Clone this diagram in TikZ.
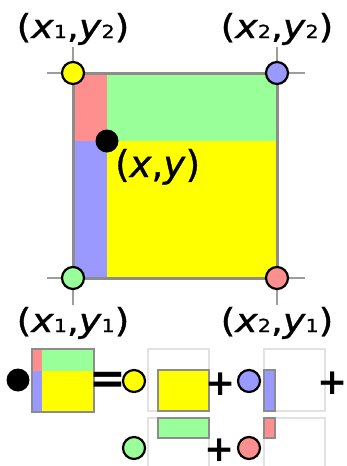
\documentclass[tikz,border=0pt]{standalone}
\usepackage{fontspec}
\setmainfont{DejaVu Sans}
\newfontfamily\lblfont[FakeBold=0.9]{DejaVu Sans}
\usepackage{graphicx}
\definecolor{ptred}{HTML}{FF8F8F}
\definecolor{ptgreen}{HTML}{99FF99}
\definecolor{ptblue}{HTML}{9999FF}
\definecolor{ptyellow}{HTML}{FFFF00}
\definecolor{edgegray}{HTML}{8C8C8C}
\definecolor{slotgray}{HTML}{E2E2E2}
\newcommand{\ptsub}[1]{{\fontsize{18}{18}\selectfont #1}}
\newcommand{\ptlabel}[2]{\scalebox{1.14}[1]{(\textit{x}\ptsub{#1},\textit{y}\ptsub{#2})}}

\begin{document}
\begin{tikzpicture}[x=1pt,y=-1pt,
dot/.style={circle,draw=black,line width=2.2pt,minimum size=22pt,inner sep=0pt},
bigdot/.style={circle,fill=black,minimum size=23pt,inner sep=0pt},
lbl/.style={anchor=base,inner sep=0pt,font=\lblfont\fontsize{33}{33}\selectfont},
op/.style={inner sep=0pt,font=\bfseries\fontsize{36}{36}\selectfont},
cross/.style={draw=edgegray!85,line width=2.4pt},
frame/.style={draw=edgegray,line width=3pt},
part/.style={draw=black!45,line width=1.2pt},
slot/.style={draw=slotgray,line width=1.5pt}]

\clip (0,0) rectangle (346,466);
\fill[white] (0,0) rectangle (346,466);

\fill[ptred] (73,73) rectangle (107,141);
\fill[ptgreen] (107,73) rectangle (277,141);
\fill[ptblue] (73,141) rectangle (107,278);
\fill[ptyellow] (107,141) rectangle (277,278);

\coordinate (T1) at (73,47);
\coordinate (T2) at (277,47);
\coordinate (B1) at (73,305);
\coordinate (B2) at (277,305);
\coordinate (W1) at (47,73);
\coordinate (E1) at (305,73);
\coordinate (W2) at (47,278);
\coordinate (E2) at (305,278);

\draw[cross] (T1) -- (B1);
\draw[cross] (T2) -- (B2);
\draw[cross] (W1) -- (E1);
\draw[cross] (W2) -- (E2);
\draw[frame] (73,73) rectangle (277,278);

\node[dot,fill=ptyellow] (P12) at (73,73) {};
\node[dot,fill=ptblue] (P22) at (277,73) {};
\node[dot,fill=ptgreen] (P11) at (73,278) {};
\node[dot,fill=ptred] (P21) at (277,278) {};

\node[lbl] (L12) at (73,38) {\ptlabel{1}{2}};
\node[lbl] (L22) at (277,38) {\ptlabel{2}{2}};
\node[lbl] (L11) at (73,332) {\ptlabel{1}{1}};
\node[lbl] (L21) at (277,332) {\ptlabel{2}{1}};

\node[bigdot] (P) at (107,141) {};
\node[anchor=base west,inner sep=0pt,font=\lblfont\fontsize{37}{37}\selectfont] (PL) at (115,177) {(\textit{x},\textit{y})};

\node[bigdot] (Q) at (18,380) {};
\fill[ptred] (32,349) rectangle (42,371);
\fill[ptgreen] (42,349) rectangle (94,371);
\fill[ptblue] (32,371) rectangle (42,412);
\fill[ptyellow] (42,371) rectangle (94,412);
\draw[edgegray,line width=2pt] (32,349) rectangle (94,412);

\node[op,font=\bfseries\fontsize{44}{44}\selectfont] (EQ) at (108,383) {=};
\node[dot,fill=ptyellow] (S12) at (134,381) {};
\draw[slot] (148,349) rectangle (209,411);
\filldraw[part,fill=ptyellow] (158,370) rectangle (209,411);
\node[op] (PLUS1) at (221,384) {+};
\node[dot,fill=ptblue] (S22) at (249,381) {};
\draw[slot] (264,349) rectangle (325,411);
\filldraw[part,fill=ptblue] (264,370) rectangle (275,411);
\node[op] (PLUS2) at (333,383) {+};

\node[dot,fill=ptgreen] (S11) at (134,448) {};
\draw[slot] (148,418) rectangle (209,480);
\filldraw[part,fill=ptgreen] (158,418) rectangle (209,438);
\node[op] (PLUS3) at (220,450) {+};
\node[dot,fill=ptred] (S21) at (249,448) {};
\draw[slot] (264,418) rectangle (325,480);
\filldraw[part,fill=ptred] (264,418) rectangle (275,438);

\end{tikzpicture}
\end{document}
